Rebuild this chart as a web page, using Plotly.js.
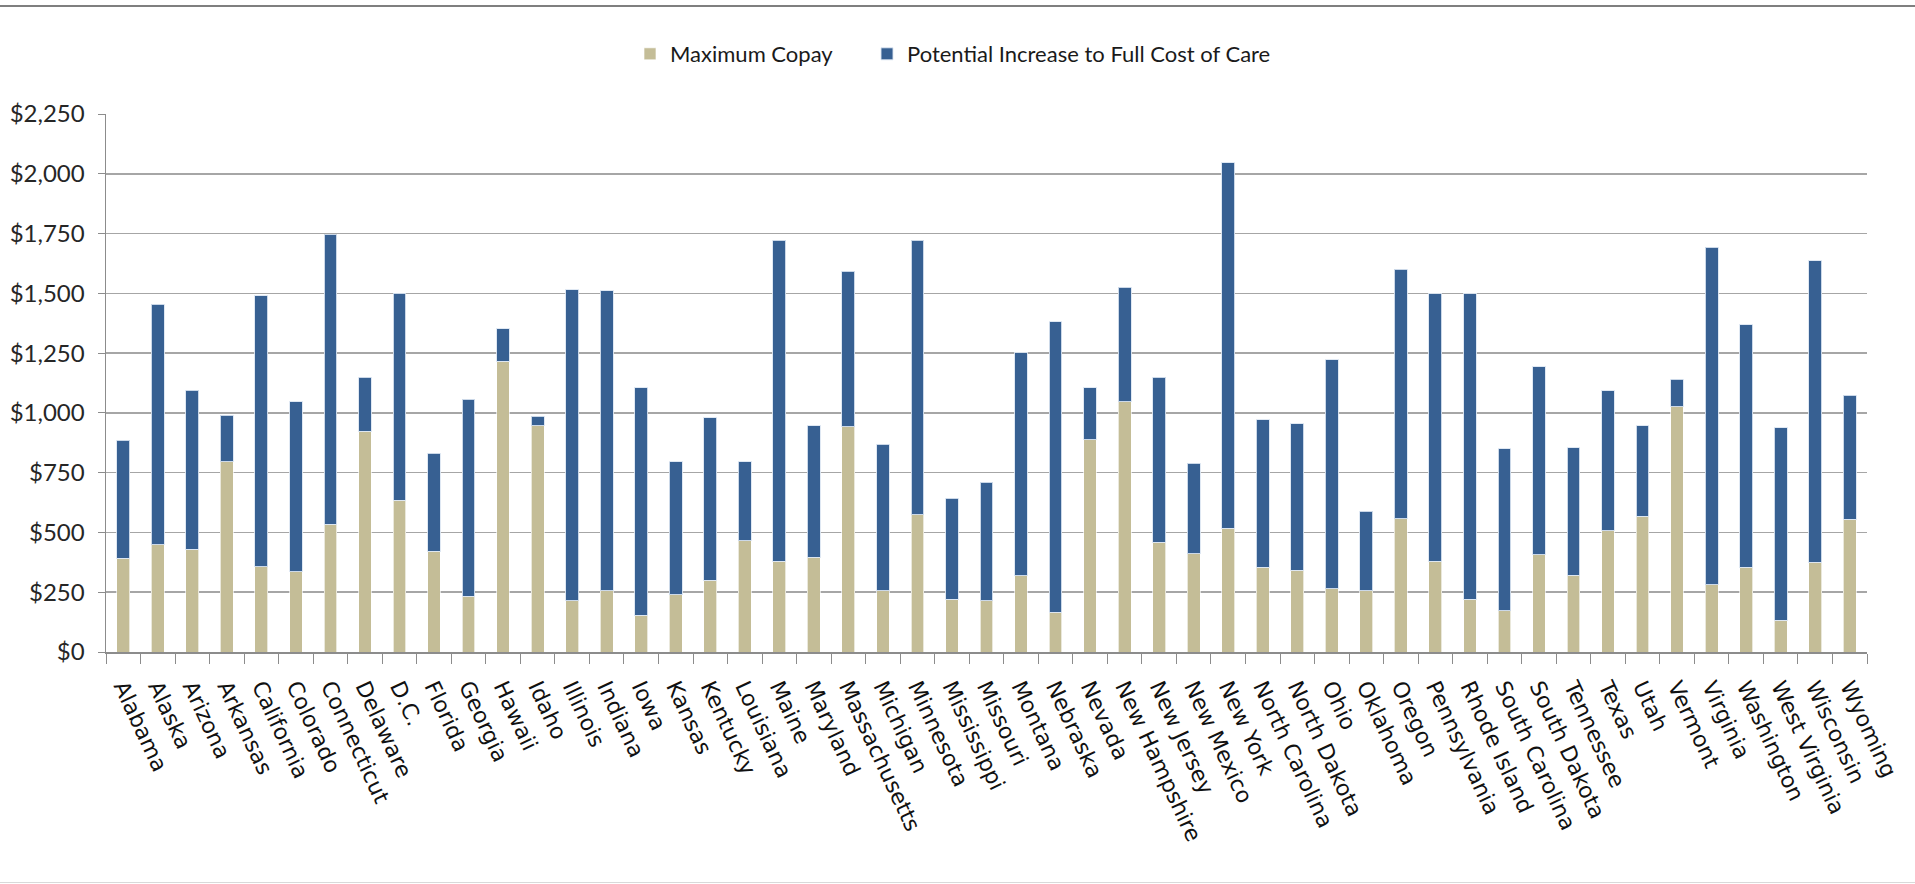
<!DOCTYPE html>
<html>
<head>
<meta charset="utf-8">
<script src="https://cdn.plot.ly/plotly-3.0.1.min.js"></script>
<style>
  html, body { margin: 0; padding: 0; background: #ffffff; }
  #wrap { position: relative; width: 1915px; height: 884px; overflow: hidden; }
  #chart { width: 1915px; height: 884px; }
  #topline { position: absolute; left: 0; top: 5px; width: 1915px; height: 2px; background: #7f7f7f; z-index: 5; }
  #botline { position: absolute; left: 0; top: 882px; width: 1915px; height: 1px; background: #d9d9d9; z-index: 5; }
</style>
</head>
<body>
<div id="wrap">
  <div id="chart"></div>
  <div id="topline"></div>
  <div id="botline"></div>
</div>
<script>
const states = ["Alabama","Alaska","Arizona","Arkansas","California","Colorado","Connecticut","Delaware","D.C.","Florida","Georgia","Hawaii","Idaho","Illinois","Indiana","Iowa","Kansas","Kentucky","Louisiana","Maine","Maryland","Massachusetts","Michigan","Minnesota","Mississippi","Missouri","Montana","Nebraska","Nevada","New Hampshire","New Jersey","New Mexico","New York","North Carolina","North Dakota","Ohio","Oklahoma","Oregon","Pennsylvania","Rhode Island","South Carolina","South Dakota","Tennessee","Texas","Utah","Vermont","Virginia","Washington","West Virginia","Wisconsin","Wyoming"];

const maximumCopay = [392,448,430,795,356,336,535,924,635,422,233,1217,947,214,257,153,239,300,465,379,397,943,257,575,221,214,318,167,887,1046,458,410,517,354,342,264,257,557,379,221,173,406,321,507,568,1026,281,354,132,375,556];

const potentialIncrease = [494,1007,664,195,1134,710,1212,225,865,410,824,134,38,1300,1253,953,557,679,331,1343,550,650,611,1147,422,496,933,1214,219,480,692,379,1529,618,612,958,331,1043,1120,1278,677,786,533,585,378,115,1412,1014,806,1262,517];

const seriesNames = ["Maximum Copay", "Potential Increase to Full Cost of Care"];
const seriesColors = ["#C4BD97", "#376092"];

const yTickValues = [0,250,500,750,1000,1250,1500,1750,2000,2250];
const yTickLabels = ["$0","$250","$500","$750","$1,000","$1,250","$1,500","$1,750","$2,000","$2,250"];

const traces = [
  {
    type: "bar", name: seriesNames[0], x: states, y: maximumCopay,
    legend: "legend",
    marker: { color: seriesColors[0], line: { color: "rgba(255,255,255,0.65)", width: 1 } },
    hoverinfo: "x+y"
  },
  {
    type: "bar", name: seriesNames[1], x: states, y: potentialIncrease,
    legend: "legend2",
    marker: { color: seriesColors[1], line: { color: "rgba(220,230,242,0.9)", width: 1 } },
    hoverinfo: "x+y"
  }
];

const legendFont = { family: "Lato, 'Liberation Sans', sans-serif", size: 22, color: "#1a1a1a" };

const layout = {
  width: 1915, height: 884,
  margin: { l: 106, r: 48, t: 114, b: 232, pad: 0 },
  paper_bgcolor: "#ffffff", plot_bgcolor: "#ffffff",
  barmode: "stack",
  bargap: 0.63,
  font: { family: "Lato, 'Liberation Sans', sans-serif", size: 22, color: "#262626" },
  showlegend: true,
  legend: {
    orientation: "h",
    x: (630 - 106) / 1761, xanchor: "left",
    y: (652 - 54) / 538, yanchor: "middle",
    font: legendFont,
    bgcolor: "rgba(0,0,0,0)"
  },
  legend2: {
    orientation: "h",
    x: (867 - 106) / 1761, xanchor: "left",
    y: (652 - 54) / 538, yanchor: "middle",
    font: legendFont,
    bgcolor: "rgba(0,0,0,0)"
  },
  xaxis: {
    type: "category",
    categoryorder: "array", categoryarray: states,
    tickangle: 65,
    tickson: "boundaries",
    ticks: "outside", ticklen: 10, tickcolor: "#8c8c8c", tickwidth: 1,
    ticklabelstandoff: 12,
    showline: true, linecolor: "#8c8c8c", linewidth: 1.5,
    showgrid: false,
    tickfont: { family: "'DejaVu Sans', sans-serif", size: 22, color: "#111111" },
    fixedrange: true
  },
  yaxis: {
    range: [0, 2250],
    tickmode: "array", tickvals: yTickValues, ticktext: yTickLabels,
    ticks: "outside", ticklen: 7, tickcolor: "#8c8c8c", tickwidth: 1,
    ticklabelstandoff: 8,
    showline: true, linecolor: "#8c8c8c", linewidth: 1.5,
    showgrid: true, gridcolor: "#a6a6a6", gridwidth: 1.5,
    zeroline: false,
    tickfont: { family: "Lato, 'Liberation Sans', sans-serif", size: 24, color: "#262626" },
    fixedrange: true
  }
};

Plotly.newPlot("chart", traces, layout, { displayModeBar: false, staticPlot: true });
</script>
</body>
</html>
